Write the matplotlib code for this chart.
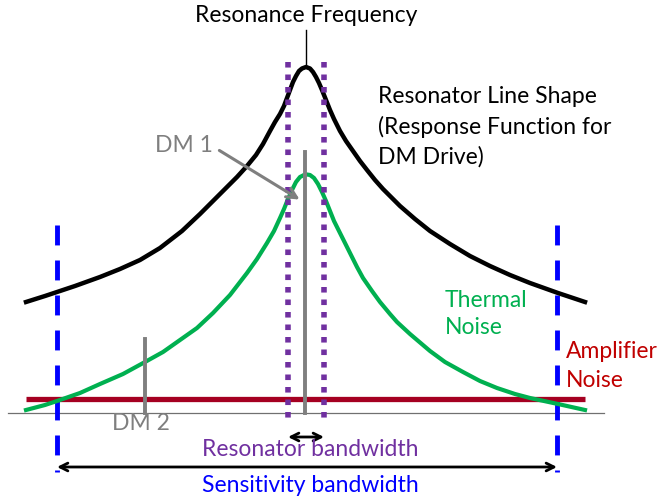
import matplotlib
matplotlib.use("Agg")
import matplotlib.pyplot as plt

plt.rcParams['font.family'] = ['Lato', 'DejaVu Sans']

# curve samples (pixel coords, y down)
line_x = [26, 45, 57, 75, 100, 120, 140, 160, 182, 200, 213, 225, 237, 247, 256,
          263, 270, 275, 280, 284, 287, 290, 293, 296, 299, 302, 306,
          310, 313, 316, 319, 322, 326, 330, 334, 340, 346, 353, 360, 367, 375,
          383, 392, 400, 415, 430, 450, 470, 490, 510, 530, 558, 585]
line_y = [302, 296, 292, 286, 277, 269, 260, 248, 231, 214, 201, 189, 177, 166, 155,
          144, 131, 122, 114, 106, 98, 90, 82, 76, 71, 68.5, 67,
          68.5, 72, 77, 83, 90, 100, 110, 119, 131, 141, 151, 161, 170, 180,
          189, 198, 206, 219, 231, 244, 256, 266, 275, 283, 293, 302]

thermal_x = [26, 45, 57, 80, 100, 123, 145, 163, 180, 197, 213, 230, 247, 257,
             267, 274, 280, 284, 288, 292, 296, 300, 304, 307,
             310, 314, 318, 322, 326, 330, 334, 340, 345, 350, 357, 363, 372, 380,
             390, 397, 410, 430, 445, 463, 480, 497, 515, 530, 558, 585]
thermal_y = [410, 405, 401, 393, 384, 374, 362, 352, 340, 328, 313, 295, 273, 259,
             243, 231, 218, 209, 199, 190, 182, 177, 175, 174.5,
             175, 178, 184, 192, 201, 211, 221, 233, 243, 253, 267, 278, 291, 302,
             314, 322, 334, 351, 362, 372, 381, 388, 394, 398, 404, 410]

amp_x = [26, 585]
amp_y = [399, 399]

baseline_y = 413
res_freq = 306
dm1_x, dm1_top = 305, 152
dm2_x, dm2_top = 145, 339
res_bw = [288, 324]
sens_bw = [57, 557]

black = "black"
green = "#00B050"
red_line = "#A50021"
red_text = "#C00000"
grey = "#7F7F7F"
purple = "#7030A0"
blue = "#0000FF"

fig = plt.figure(figsize=(6.62, 4.97), dpi=100)
ax = fig.add_axes([0, 0, 1, 1])
ax.set_xlim(0, 662)
ax.set_ylim(497, 0)
ax.axis("off")

# baseline
ax.plot([8, 604], [baseline_y, baseline_y], color="#707070", lw=0.9)

# sensitivity band edges
for x in sens_bw:
    ax.plot([x, x], [225, 472], color=blue, lw=3.5, dashes=(4.1, 3.1), solid_capstyle="butt")

# amplifier noise
ax.plot(amp_x, amp_y, color=red_line, lw=3.8, solid_capstyle="butt")

# thermal noise
ax.plot(thermal_x, thermal_y, color=green, lw=3, solid_joinstyle="round")

# resonator line shape
ax.plot(line_x, line_y, color=black, lw=3.2, solid_joinstyle="round")

# resonance frequency marker
ax.plot([res_freq, res_freq], [30, 67], color=black, lw=1)

# DM signals
ax.plot([dm1_x, dm1_x], [dm1_top, baseline_y], color=grey, lw=2.8)
ax.plot([dm2_x, dm2_x], [dm2_top, baseline_y], color=grey, lw=2.8)

# resonator bandwidth
for x in res_bw:
    ax.plot([x, x], [62, 418], color=purple, lw=4, dashes=(1, 1.25), solid_capstyle="butt")

# arrows
ax.annotate("", xy=(302, 201), xytext=(217, 149),
            arrowprops=dict(arrowstyle="->", color=grey, lw=2.2, mutation_scale=18))
ax.annotate("", xy=(res_bw[0], 437), xytext=(res_bw[1], 437),
            arrowprops=dict(arrowstyle="<->", color=black, lw=2, mutation_scale=14,
                            shrinkA=0, shrinkB=0))
ax.annotate("", xy=(sens_bw[0], 467), xytext=(sens_bw[1], 467),
            arrowprops=dict(arrowstyle="<->", color=black, lw=2, mutation_scale=14,
                            shrinkA=0, shrinkB=0))

# labels
fs = 16.5
ax.text(res_freq, 16, "Resonance Frequency", ha="center", va="center", fontsize=fs, color=black)
ax.text(378, 127, "Resonator Line Shape\n(Response Function for\nDM Drive)", ha="left",
        va="center", fontsize=fs, color=black, linespacing=1.47)
ax.text(155, 145, "DM 1", ha="left", va="center", fontsize=fs, color=grey)
ax.text(445, 314, "Thermal\nNoise", ha="left", va="center", fontsize=fs, color=green,
        linespacing=1.37)
ax.text(566, 366, "Amplifier\nNoise", ha="left", va="center", fontsize=fs, color=red_text,
        linespacing=1.42)
ax.text(112, 424, "DM 2", ha="left", va="center", fontsize=fs, color=grey)
ax.text(310, 450, "Resonator bandwidth", ha="center", va="center", fontsize=fs, color=purple)
ax.text(310, 485, "Sensitivity bandwidth", ha="center", va="center", fontsize=fs, color=blue)

fig.savefig("out.png", dpi=100)
